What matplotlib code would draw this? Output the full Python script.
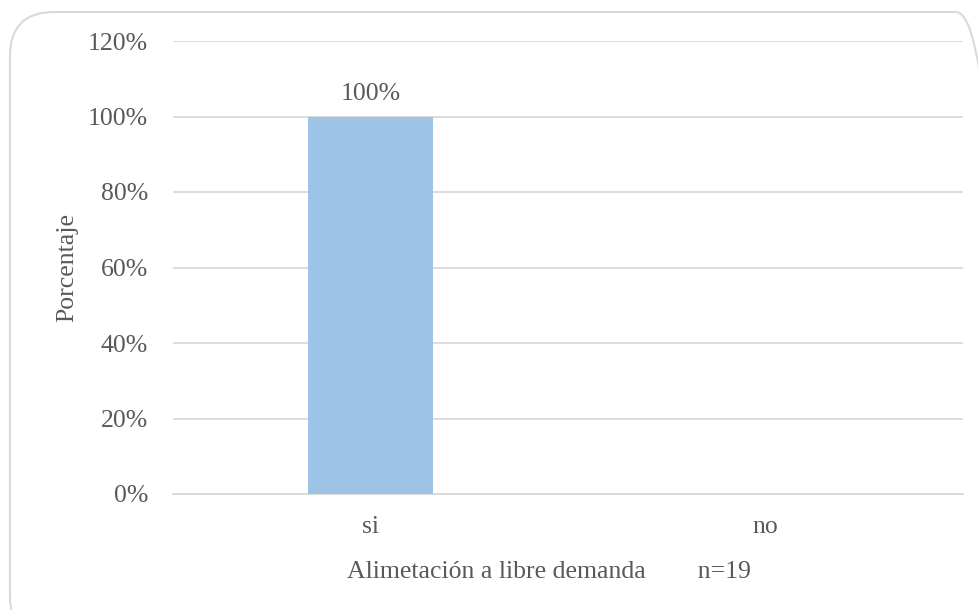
import matplotlib.pyplot as plt
from matplotlib.patches import FancyBboxPatch
from matplotlib.ticker import FuncFormatter

categorias = ['si', 'no']
porcentajes = [100, 0]
etiquetas = ['100%', '']
yticks = [0, 20, 40, 60, 80, 100, 120]

plt.rcParams['font.family'] = ['Liberation Serif', 'DejaVu Serif']
gris = '#595959'

W, H = 979, 610
fig = plt.figure(figsize=(W / 100, H / 100), dpi=100)
ax = fig.add_axes([173 / W, 1 - 494 / H, (963 - 173) / W, (494 - 41) / H])

# marco redondeado del grafico
marco = FancyBboxPatch((10 / W, -0.05), (1000 - 10) / W, 1 - 12 / H + 0.05,
                       boxstyle='round,pad=0,rounding_size=0.045',
                       transform=fig.transFigure, fill=False,
                       edgecolor='#D9D9D9', lw=1.5, mutation_aspect=W / H)
fig.patches.append(marco)

x = range(len(categorias))
bars = ax.bar(x, porcentajes, width=0.314, color='#9DC3E6', zorder=3)
for b, t in zip(bars, etiquetas):
    if t:
        ax.text(b.get_x() + b.get_width() / 2, b.get_height() + 3, t,
                ha='center', va='bottom', fontsize=18.5, color=gris)

ax.set_xlim(-0.5, 1.5)
ax.set_ylim(0, 120)
ax.set_yticks(yticks)
ax.yaxis.set_major_formatter(FuncFormatter(lambda v, p: '%d%%' % v))
ax.set_xticks(list(x))
ax.set_xticklabels(categorias)
ax.grid(axis='y', color='#D9D9D9', lw=1.3, zorder=0)
for s in ['top', 'right', 'left']:
    ax.spines[s].set_visible(False)
ax.spines['bottom'].set_color('#D9D9D9')
ax.spines['bottom'].set_linewidth(1.3)
ax.tick_params(axis='both', length=0, colors=gris, labelsize=18.5)
ax.tick_params(axis='y', pad=18)
ax.tick_params(axis='x', pad=16)

ax.set_ylabel('Porcentaje', fontsize=18.5, color=gris, labelpad=7)
fig.text(549 / W, 1 - 572 / H, 'Alimetación a libre demanda        n=19',
         ha='center', va='center', fontsize=18.5, color=gris)

fig.savefig('out.png', dpi=100)
